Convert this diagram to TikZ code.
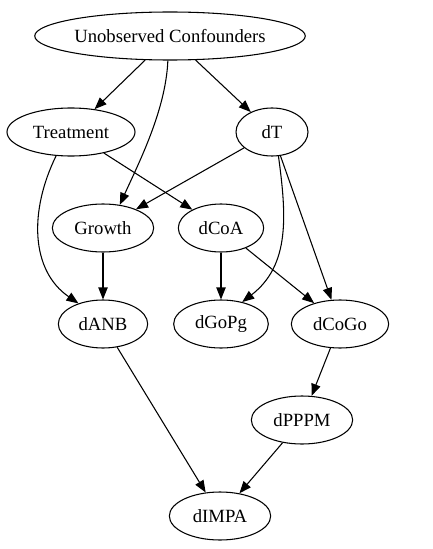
\documentclass[tikz,border=0pt]{standalone}
\usepackage{fontspec}
\setmainfont{Liberation Serif}
\usetikzlibrary{shapes.geometric, arrows.meta}

\begin{document}
\begin{tikzpicture}[
  x=0.75pt, y=-0.75pt,
  var/.style={ellipse, draw, line width=0.8pt, inner sep=0pt,
    minimum height=36pt, font=\fontsize{14}{16}\selectfont},
  edge/.style={-{Triangle[length=9pt, width=7pt]}, line width=0.8pt}
]
  \useasboundingbox (0,0) rectangle (432,549);

  % Nodes
  \node[var, minimum width=202pt] (uc)     at (170,36)  {Unobserved Confounders};
  \node[var, minimum width=96pt]  (treat)  at (71,132)  {Treatment};
  \node[var, minimum width=54pt]  (dt)     at (272,132) {dT};
  \node[var, minimum width=76pt]  (growth) at (103,228) {Growth};
  \node[var, minimum width=64pt]  (dcoa)   at (221,228) {dCoA};
  \node[var, minimum width=67pt]  (danb)   at (103,324) {dANB};
  \node[var, minimum width=71pt]  (dgopg)  at (221,324) {dGoPg};
  \node[var, minimum width=73pt]  (dcogo)  at (340,324) {dCoGo};
  \node[var, minimum width=76pt]  (dpppm)  at (302,420) {dPPPM};
  \node[var, minimum width=76pt]  (dimpa)  at (220,516) {dIMPA};

  % Edges
  \draw[edge] (uc) -- (treat);
  \draw[edge] (uc) -- (dt);
  \draw[edge] (uc.265) .. controls +(-2,50) and +(18,-40) .. (growth.54);
  \draw[edge] (treat) -- (dcoa);
  \draw[edge] (treat.238) .. controls +(-27,55) and +(-48,-33) .. (danb.140);
  \draw[edge] (dt) -- (growth);
  \draw[edge] (dt.285) .. controls +(8,59) and +(48,-37) .. (dgopg.46);
  \draw[edge] (dt) -- (dcogo);
  \draw[edge] (growth) -- (danb);
  \draw[edge] (dcoa) -- (dgopg);
  \draw[edge] (dcoa) -- (dcogo);
  \draw[edge] (danb) -- (dimpa);
  \draw[edge] (dcogo) -- (dpppm);
  \draw[edge] (dpppm) -- (dimpa);
\end{tikzpicture}
\end{document}
